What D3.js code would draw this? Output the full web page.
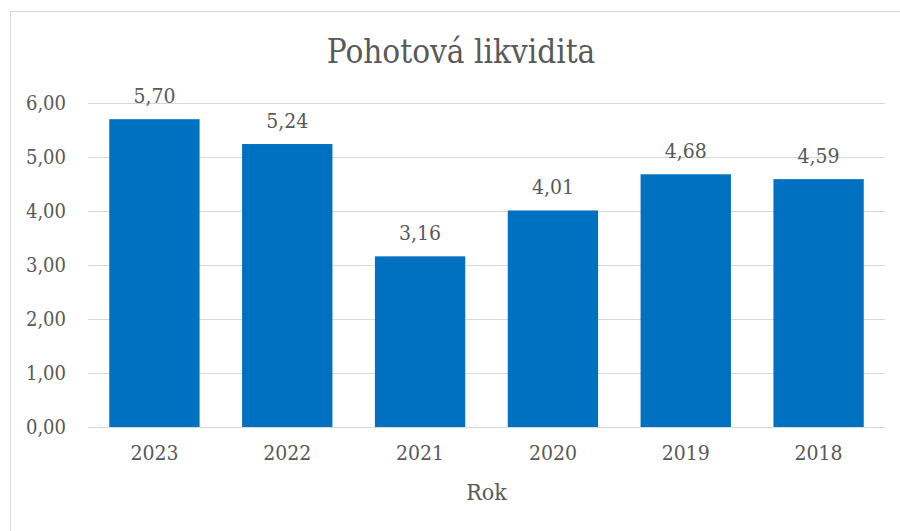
<!DOCTYPE html>
<html>
<head>
<meta charset="utf-8">
<script src="https://cdn.jsdelivr.net/npm/d3@7"></script>
<style>
  body { margin: 0; background: #fff; }
  text { font-family: "DejaVu Serif", "Liberation Serif", serif; font-stretch: condensed; fill: #595959; }
</style>
</head>
<body>
<div id="chart"></div>
<script>
// Data
let years = ["2023", "2022", "2021", "2020", "2019", "2018"];
let values = [5.70, 5.24, 3.16, 4.01, 4.68, 4.59];
let yTicks = [0, 1, 2, 3, 4, 5, 6];

let width = 900, height = 531;
let margin = {top: 103, right: 15, bottom: 104, left: 88};
let innerW = width - margin.left - margin.right;
let innerH = height - margin.top - margin.bottom;

let fmt = v => v.toFixed(2).replace(".", ",");

let svg = d3.select("#chart").append("svg")
    .attr("width", width)
    .attr("height", height);

// Outer chart border
svg.append("rect")
    .attr("x", 10.5)
    .attr("y", 11.5)
    .attr("width", width)
    .attr("height", height)
    .attr("fill", "none")
    .attr("stroke", "#d9d9d9")
    .attr("stroke-width", 1);

let g = svg.append("g")
    .attr("transform", "translate(" + margin.left + "," + margin.top + ")");

// Scales
let x = d3.scaleBand()
    .domain(years)
    .range([0, innerW])
    .paddingInner(0.32)
    .paddingOuter(0.16);

let y = d3.scaleLinear()
    .domain([0, 6])
    .range([innerH, 0]);

// Gridlines
g.selectAll(".grid")
    .data(yTicks)
    .enter()
    .append("line")
    .attr("class", "grid")
    .attr("x1", 0)
    .attr("x2", innerW)
    .attr("y1", d => Math.round(y(d)) + 0.5)
    .attr("y2", d => Math.round(y(d)) + 0.5)
    .attr("stroke", "#d9d9d9")
    .attr("stroke-width", 1.2);

// Y axis labels
let yAxis = d3.axisLeft(y)
    .tickValues(yTicks)
    .tickFormat(fmt)
    .tickSize(0)
    .tickPadding(22);

g.append("g")
    .attr("class", "y-axis")
    .call(yAxis)
    .call(s => s.select(".domain").remove())
    .selectAll("text")
    .attr("font-size", 20)
    .attr("font-family", null)
    .attr("fill", "#595959");

// Bars
g.selectAll(".bar")
    .data(values)
    .enter()
    .append("rect")
    .attr("class", "bar")
    .attr("x", (d, i) => x(years[i]))
    .attr("y", d => y(d))
    .attr("width", x.bandwidth())
    .attr("height", d => innerH - y(d))
    .attr("fill", "#0070c0");

// Value labels
g.selectAll(".barlabel")
    .data(values)
    .enter()
    .append("text")
    .attr("class", "barlabel")
    .attr("x", (d, i) => x(years[i]) + x.bandwidth() / 2)
    .attr("y", d => y(d) - 16)
    .attr("text-anchor", "middle")
    .attr("font-size", 21)
    .text(fmt);

// X axis
let xAxis = d3.axisBottom(x)
    .tickSize(0)
    .tickPadding(18);

g.append("g")
    .attr("class", "x-axis")
    .attr("transform", "translate(0," + innerH + ")")
    .call(xAxis)
    .call(s => s.select(".domain").remove())
    .selectAll("text")
    .attr("font-size", 21)
    .attr("font-family", null)
    .attr("fill", "#595959");

// Title
svg.append("text")
    .attr("x", 461)
    .attr("y", 63)
    .attr("text-anchor", "middle")
    .attr("font-size", 33)
    .text("Pohotová likvidita");

// X axis title
svg.append("text")
    .attr("x", margin.left + innerW / 2)
    .attr("y", 500)
    .attr("text-anchor", "middle")
    .attr("font-size", 23)
    .text("Rok");
</script>
</body>
</html>
